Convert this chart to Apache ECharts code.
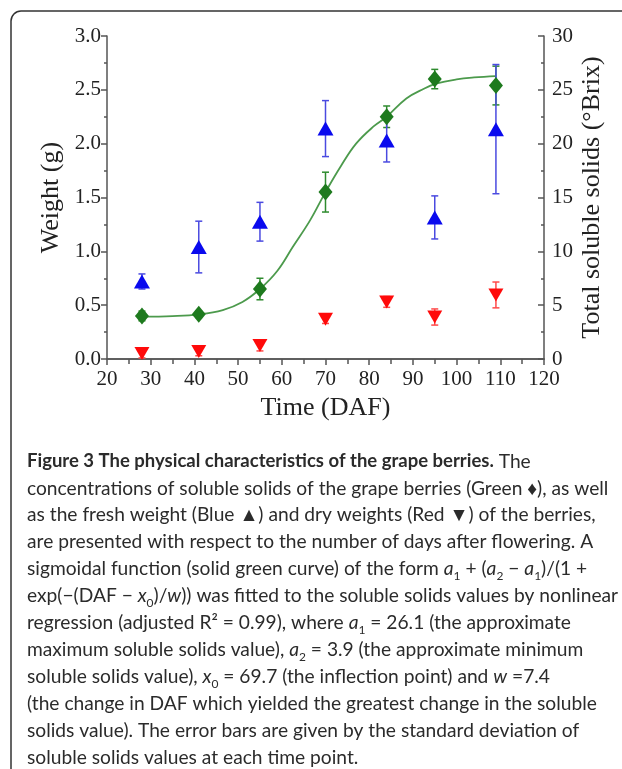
<!DOCTYPE html>
<html>
<head>
<meta charset="utf-8">
<script src="https://cdn.jsdelivr.net/npm/echarts@6/dist/echarts.min.js"></script>
<style>
html,body{margin:0;padding:0;background:#fff;}
#chart{width:622px;height:769px;}
</style>
</head>
<body>
<div id="chart"></div>
<script>
// ---- data ----
const days = [28, 41, 55, 70, 84, 95, 109];
const brix = [4.0, 4.15, 6.5, 15.5, 22.5, 26.0, 25.4];          // Total soluble solids (°Brix), right axis
const brixSD = [0.45, 0.3, 1.0, 1.85, 1.0, 0.9, 1.8];
const fresh = [0.72, 1.04, 1.275, 2.14, 2.03, 1.315, 2.135];     // fresh weight (g), left axis
const freshSD = [0.07, 0.24, 0.18, 0.26, 0.2, 0.2, 0.6];
const dry = [0.05, 0.07, 0.125, 0.37, 0.53, 0.39, 0.595];        // dry weight (g), left axis
const drySD = [0.04, 0.04, 0.05, 0.04, 0.05, 0.075, 0.12];
// fitted sigmoid curve
const curveDays = [28, 35, 41, 46.5, 51, 55, 59, 62.5, 66.5, 70, 73.5, 77, 81, 84, 88.5, 92.5, 95.5, 100, 104, 109];
const curveBrix = [3.93, 3.99, 4.15, 4.55, 5.3, 6.5, 8.2, 10.4, 12.9, 15.5, 17.9, 20.0, 21.6, 22.5, 24.2, 25.1, 25.6, 25.97, 26.15, 26.28];
const xTicks = [20, 30, 40, 50, 60, 70, 80, 90, 100, 110, 120];
const leftTicks = ['0.0', '0.5', '1.0', '1.5', '2.0', '2.5', '3.0'];
const rightTicks = ['0', '5', '10', '15', '20', '25', '30'];

const captionLines = [
  '{b|Figure 3 The physical characteristics of the grape berries.}{n| The}',
  '{n|concentrations of soluble solids of the grape berries (Green \u2666), as well}',
  '{n|as the fresh weight (Blue \u25B2) and dry weights (Red \u25BC) of the berries,}',
  '{n|are presented with respect to the number of days after flowering. A}',
  '{n|sigmoidal function (solid green curve) of the form }{i|a}{s|1}{n| + (}{i|a}{s|2}{n| \u2212 }{i|a}{s|1}{n|)/(1 +}',
  '{n|exp(\u2212(DAF \u2212 }{i|x}{s|0}{n|)/}{i|w}{n|)) was fitted to the soluble solids values by nonlinear}',
  '{n|regression (adjusted R\u00B2 = 0.99), where }{i|a}{s|1}{n| = 26.1 (the approximate}',
  '{n|maximum soluble solids value), }{i|a}{s|2}{n| = 3.9 (the approximate minimum}',
  '{n|soluble solids value), }{i|x}{s|0}{n| = 69.7 (the inflection point) and }{i|w}{n| =7.4}',
  '{n|(the change in DAF which yielded the greatest change in the soluble}',
  '{n|solids value). The error bars are given by the standard deviation of}',
  '{n|soluble solids values at each time point.}'
];

// ---- build ----
const serif = '"Liberation Serif", "Times New Roman", serif';
const sans = 'Lato, "Open Sans", sans-serif';
function bars(vals, sds) { return days.map((d, i) => [d, vals[i] - sds[i], vals[i] + sds[i]]); }
function errSeries(data, color, yIdx) {
  return {
    type: 'custom', yAxisIndex: yIdx, data: data, encode: { x: 0, y: [1, 2] }, z: 2, silent: true,
    renderItem: function (params, api) {
      const x = api.value(0), lo = api.value(1), hi = api.value(2);
      const a = api.coord([x, lo]), b = api.coord([x, hi]);
      const hw = 3.5, st = { stroke: color, lineWidth: 1.5 };
      return { type: 'group', children: [
        { type: 'line', shape: { x1: a[0], y1: a[1], x2: b[0], y2: b[1] }, style: st },
        { type: 'line', shape: { x1: a[0] - hw, y1: a[1], x2: a[0] + hw, y2: a[1] }, style: st },
        { type: 'line', shape: { x1: b[0] - hw, y1: b[1], x2: b[0] + hw, y2: b[1] }, style: st }
      ] };
    }
  };
}

const capRich = {
  n: { fontFamily: sans, fontSize: 19.2, color: '#2b2b2b', lineHeight: 27 },
  b: { fontFamily: sans, fontSize: 18.5, color: '#111', fontWeight: 'bold', lineHeight: 27 },
  i: { fontFamily: sans, fontSize: 19.2, color: '#2b2b2b', fontStyle: 'italic', lineHeight: 27 },
  s: { fontFamily: sans, fontSize: 12, color: '#2b2b2b', lineHeight: 17, verticalAlign: 'bottom' }
};
const graphics = [
  { type: 'rect', shape: { x: 11, y: 11, width: 700, height: 800, r: 10 }, style: { fill: 'none', stroke: '#333', lineWidth: 1.5 }, z: -1 }
];
captionLines.forEach((t, k) => {
  graphics.push({ type: 'text', left: 27, top: 452 + k * 26.9, style: { text: t, rich: capRich, fill: '#2b2b2b' } });
});

const axisLine = { show: true, lineStyle: { color: '#555', width: 1.5 } };
const axisLabelFont = { fontFamily: serif, fontSize: 21, color: '#222' };
const titleFont = { fontFamily: serif, fontSize: 26, color: '#222' };

const option = {
  animation: false,
  backgroundColor: '#fff',
  grid: { left: 107, right: 78, top: 36, bottom: 410 },
  xAxis: [
    {
      type: 'value', min: 20, max: 120, interval: 10, position: 'bottom',
      axisLine: axisLine, splitLine: { show: false },
      axisTick: { show: true, inside: false, length: 6, lineStyle: { color: '#555', width: 1.5 } },
      minorTick: { show: true, splitNumber: 2, length: 3, lineStyle: { color: '#555', width: 1.5 } },
      axisLabel: Object.assign({ margin: 10, formatter: v => xTicks.indexOf(v) >= 0 ? String(v) : '' }, axisLabelFont),
      name: 'Time (DAF)', nameLocation: 'middle', nameGap: 36,
      nameTextStyle: titleFont
    },
    {
      type: 'value', min: 20, max: 120, interval: 5, position: 'top',
      axisLine: axisLine, splitLine: { show: false },
      axisTick: { show: true, inside: true, length: 5, lineStyle: { color: '#555', width: 1.5 } },
      axisLabel: { show: false }
    }
  ],
  yAxis: [
    {
      type: 'value', min: 0, max: 3, interval: 0.5, position: 'left',
      axisLine: axisLine, splitLine: { show: false },
      axisTick: { show: true, inside: false, length: 6, lineStyle: { color: '#555', width: 1.5 } },
      minorTick: { show: true, splitNumber: 2, length: 3, lineStyle: { color: '#555', width: 1.5 } },
      axisLabel: Object.assign({ margin: 6, formatter: (v) => leftTicks[Math.round(v * 2)] }, axisLabelFont),
      name: 'Weight (g)', nameLocation: 'middle', nameRotate: 90, nameGap: 43,
      nameTextStyle: titleFont
    },
    {
      type: 'value', min: 0, max: 30, interval: 5, position: 'right',
      axisLine: axisLine, splitLine: { show: false },
      axisTick: { show: true, inside: true, length: 6, lineStyle: { color: '#555', width: 1.5 } },
      minorTick: { show: true, splitNumber: 2, length: 3, lineStyle: { color: '#555', width: 1.5 } },
      axisLabel: Object.assign({ margin: 8, formatter: (v) => rightTicks[Math.round(v / 5)] }, axisLabelFont),
      name: 'Total soluble solids (\u00B0Brix)', nameLocation: 'middle', nameRotate: 90, nameGap: 35,
      nameMoveOverlap: false,
      nameTextStyle: titleFont
    }
  ],
  graphic: graphics,
  series: [
    {
      type: 'line', yAxisIndex: 1, smooth: 0.4, showSymbol: false, z: 1,
      data: curveDays.map((d, i) => [d, curveBrix[i]]),
      lineStyle: { color: '#4c9a4c', width: 1.8 }
    },
    errSeries(bars(brix, brixSD), '#2e8b2e', 1),
    errSeries(bars(fresh, freshSD), '#4a4ae0', 0),
    errSeries(bars(dry, drySD), '#ff4a4a', 0),
    {
      type: 'scatter', yAxisIndex: 1, symbol: 'diamond', symbolSize: [14, 17], z: 3,
      data: days.map((d, i) => [d, brix[i]]), itemStyle: { color: '#1e7a1e', opacity: 1 }
    },
    {
      type: 'scatter', yAxisIndex: 0, symbol: 'triangle', symbolSize: [16, 14], z: 3,
      data: days.map((d, i) => [d, fresh[i]]), itemStyle: { color: '#0a0aee', opacity: 1 }
    },
    {
      type: 'scatter', yAxisIndex: 0, symbol: 'triangle', symbolRotate: 180, symbolSize: [15, 13], z: 3,
      data: days.map((d, i) => [d, dry[i]]), itemStyle: { color: '#ff0a0a', opacity: 1 }
    }
  ]
};
const chart = echarts.init(document.getElementById('chart'), null, { renderer: 'canvas' });
chart.setOption(option);
</script>
</body>
</html>
